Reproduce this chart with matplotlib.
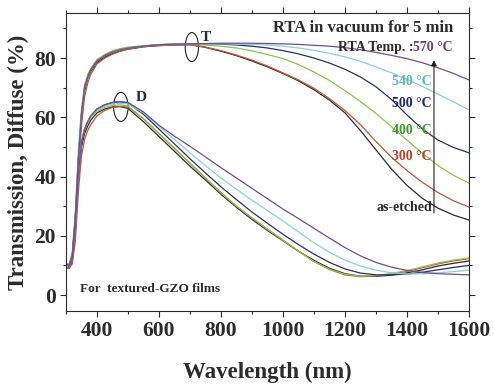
import matplotlib
matplotlib.use("Agg")
import matplotlib.pyplot as plt
from matplotlib.patches import Ellipse
from matplotlib.ticker import MultipleLocator

# Wavelength grid (nm)
wavelength = [300, 310, 320, 330, 340, 350, 360, 370, 380, 400, 425, 450, 475, 500,
              550, 600, 650, 700, 750, 800, 850, 900, 950, 1000, 1050, 1100, 1150,
              1200, 1250, 1300, 1350, 1400, 1450, 1500, 1550, 1600]

# Total transmission T (%)
T_as_etched = [10.5, 10, 13, 25, 45, 60, 69, 73, 75.5, 78.5, 80.3, 81.5, 82.4, 83,
               83.8, 84.2, 84.4, 84.5, 83.6, 82.3, 80.8, 79.0, 77.0, 74.8, 72.3, 69.3, 65.8,
               61.5, 55.5, 49.0, 42.5, 37.0, 32.6, 29.3, 27.0, 25.3]
T_300 = [10.5, 9.5, 11.5, 22, 42, 57, 67, 71.5, 74.5, 78, 80, 81.3, 82.3, 83,
         83.8, 84.2, 84.4, 84.5, 83.7, 82.5, 81.0, 79.3, 77.3, 75.0, 72.6, 69.8, 66.3,
         62.3, 57.5, 51.8, 46.5, 42.0, 38.0, 34.6, 31.8, 29.7]
T_400 = [10.5, 10.5, 14.5, 28, 49, 63, 71, 74.5, 76.5, 79.5, 81.2, 82.5, 83.2, 83.7,
         84.2, 84.5, 84.6, 84.6, 84.4, 84.0, 83.4, 82.4, 81.2, 79.8, 77.8, 75.3, 72.4,
         69.0, 65.3, 61.3, 56.8, 52.3, 47.8, 43.7, 40.4, 37.8]
T_500 = [10.5, 10, 13, 26, 46, 61, 70, 73.5, 76, 79, 80.8, 82, 82.8, 83.3,
         84, 84.5, 84.7, 84.8, 84.8, 84.7, 84.4, 84.0, 83.4, 82.5, 81.4, 80.0, 78.3,
         76.2, 73.6, 70.3, 66.0, 60.8, 56.0, 52.3, 49.8, 48.0]
T_540 = [10.5, 10, 13, 26, 46, 61, 70, 73.5, 76, 79, 80.8, 82, 82.8, 83.3,
         84, 84.5, 84.7, 84.8, 84.8, 84.8, 84.7, 84.6, 84.4, 84.0, 83.4, 82.6, 81.6,
         80.4, 78.9, 77.0, 75.0, 72.8, 70.4, 67.8, 65.2, 62.5]
T_570 = [10.5, 10, 13, 26, 46, 61, 70, 73.5, 76, 79, 80.8, 82, 82.8, 83.3,
         84, 84.5, 84.7, 84.8, 84.9, 85.0, 85.0, 85.0, 84.9, 84.8, 84.6, 84.3, 84.0,
         83.5, 82.8, 81.9, 80.9, 79.8, 78.4, 76.7, 74.8, 72.6]

# Diffuse transmission D (%)
D_as_etched = [9, 9, 11, 21, 39, 50, 54.5, 57, 59, 61.5, 62.8, 63.5, 63.6, 63,
               58.5, 53.5, 48.5, 43.5, 38.8, 34, 29.6, 25.5, 21.8, 18.3, 14.8, 11.7, 9.0,
               7.2, 6.3, 6.3, 6.7, 7.5, 8.5, 9.8, 10.7, 11.5]
D_300 = [9, 9, 10.5, 18, 35, 47, 52.5, 55.5, 57.5, 60.5, 62.3, 63.3, 63.7, 63.5,
         59.5, 54.5, 49.5, 44.5, 39.5, 34.5, 30, 26, 22.2, 18.5, 14.8, 11.3, 8.6,
         6.8, 6.2, 6.4, 7.1, 8.0, 9.2, 10.5, 11.5, 12.3]
D_400 = [9, 9.5, 12.5, 24, 42, 52, 56, 58.3, 60, 62, 63.3, 64, 64.2, 63.8,
         59.5, 54.5, 49.5, 44.5, 39.5, 34.5, 30, 26, 22.2, 18.5, 14.8, 11.3, 8.7,
         7.0, 6.4, 6.6, 7.3, 8.3, 9.5, 10.8, 11.8, 12.5]
D_500 = [9, 9.5, 12, 23, 41, 51.5, 56, 58.5, 60.5, 62.8, 64.2, 65, 65.2, 64.8,
         61, 56, 51, 46, 41.2, 36.5, 32.2, 28, 24.2, 20.5, 17.0, 13.8, 11.0,
         8.8, 7.4, 6.8, 6.8, 7.1, 7.7, 8.5, 9.3, 10]
D_540 = [9, 9.5, 12, 23, 41, 51.5, 56, 58.5, 60.5, 62.5, 63.8, 64.5, 64.7, 64.5,
         61.5, 57, 52.5, 48, 43.7, 39.5, 35.7, 32, 28.5, 25, 21.3, 17.6, 14.4,
         11.8, 9.8, 8.4, 7.5, 7.1, 7.2, 7.5, 7.9, 8.4]
D_570 = [9, 9.5, 12, 23, 41, 51.5, 56, 58.5, 60.5, 62.8, 64.2, 65, 65.3, 65,
         61.8, 57.3, 53.6, 50.2, 46.6, 43, 39.5, 36, 32.5, 29, 25.8, 22.5, 19.2,
         16, 13.2, 11, 9.4, 8.3, 7.6, 7.2, 7.0, 6.8]

series_names = ["as-etched", "300 °C", "400 °C", "500 °C", "540 °C", "570 °C"]
T_all = [T_as_etched, T_300, T_400, T_500, T_540, T_570]
D_all = [D_as_etched, D_300, D_400, D_500, D_540, D_570]
line_colors = ["#2b2b2b", "#c4553a", "#8cc152", "#27306f", "#8fd0d0", "#6c4f92"]
label_colors = ["#2b2b2b", "#b8402a", "#3d9a2a", "#1c2a6e", "#5fb8b8", "#6b3f8a"]

FONT = "Liberation Serif"
TXT = "#2b2b2b"
plt.rcParams["font.family"] = [FONT, "DejaVu Sans"]
plt.rcParams["font.weight"] = "bold"

fig = plt.figure(figsize=(4.94, 3.85), dpi=100)
ax = fig.add_axes([0.1336, 0.1922, 0.8158, 0.774])

for t, d, c in zip(T_all, D_all, line_colors):
    ax.plot(wavelength, t, color=c, lw=0.9)
    ax.plot(wavelength, d, color=c, lw=0.9)

ax.set_xlim(300, 1600)
ax.set_ylim(-5.4, 95.2)
ax.xaxis.set_major_locator(MultipleLocator(200))
ax.xaxis.set_minor_locator(MultipleLocator(100))
ax.yaxis.set_major_locator(MultipleLocator(20))
ax.yaxis.set_minor_locator(MultipleLocator(10))
ax.set_xticks([400, 600, 800, 1000, 1200, 1400, 1600])
ax.tick_params(which="both", direction="out", top=True, right=True,
               color=TXT, width=0.8)
ax.tick_params(which="major", length=4.3, labelsize=15.5, labelcolor=TXT, pad=3)
ax.tick_params(which="minor", length=2.5)
for lab in ax.get_xticklabels() + ax.get_yticklabels():
    lab.set_fontweight("bold")
for sp in ax.spines.values():
    sp.set_linewidth(0.8)
    sp.set_color(TXT)

ax.set_xlabel("Wavelength (nm)", fontsize=16.5, fontweight="bold", color=TXT, labelpad=15)
ax.set_ylabel("Transmission, Diffuse (%)", fontsize=16.5, fontweight="bold", color=TXT, labelpad=4)

# Markers for the total (T) and diffuse (D) curve groups
ax.add_patch(Ellipse((706, 83.7), 43, 9.8, fill=False, ec="#222222", lw=0.8))
ax.add_patch(Ellipse((477, 63.5), 47, 9.8, fill=False, ec="#222222", lw=0.8))
ax.text(752, 86.8, "T", fontsize=11, fontweight="bold", color=TXT, ha="center", va="center")
ax.text(542, 66.7, "D", fontsize=11, fontweight="bold", color=TXT, ha="center", va="center")

ax.text(1548, 90.1, "RTA in vacuum for 5 min", fontsize=12, fontweight="bold",
        color=TXT, ha="right", va="center")
t570 = ax.text(1548, 83.4, "570 °C", fontsize=10, fontweight="bold",
               color=label_colors[5], ha="right", va="center")
fig.canvas.draw()
bb = t570.get_window_extent(renderer=fig.canvas.get_renderer())
x_left = ax.transData.inverted().transform((bb.x0, bb.y0))[0]
ax.text(x_left, 83.4, "RTA Temp. :", fontsize=10, fontweight="bold",
        color=TXT, ha="right", va="center")

label_y = {"540 °C": 72.2, "500 °C": 64.8, "400 °C": 55.4, "300 °C": 46.6, "as-etched": 29.4}
for name, col in zip(series_names[:5], label_colors[:5]):
    ax.text(1480, label_y[name], name, fontsize=10, fontweight="bold",
            color=col, ha="right", va="center")

ax.annotate("", xy=(1487, 79.3), xytext=(1487, 27.7),
            arrowprops=dict(arrowstyle="-|>", lw=0.8, color="#222222", mutation_scale=8,
                            shrinkA=0, shrinkB=0))

ax.text(345, 2.0, "For  textured-GZO films", fontsize=9.5, fontweight="bold",
        color=TXT, ha="left", va="center")

fig.savefig("out.png", dpi=100)
